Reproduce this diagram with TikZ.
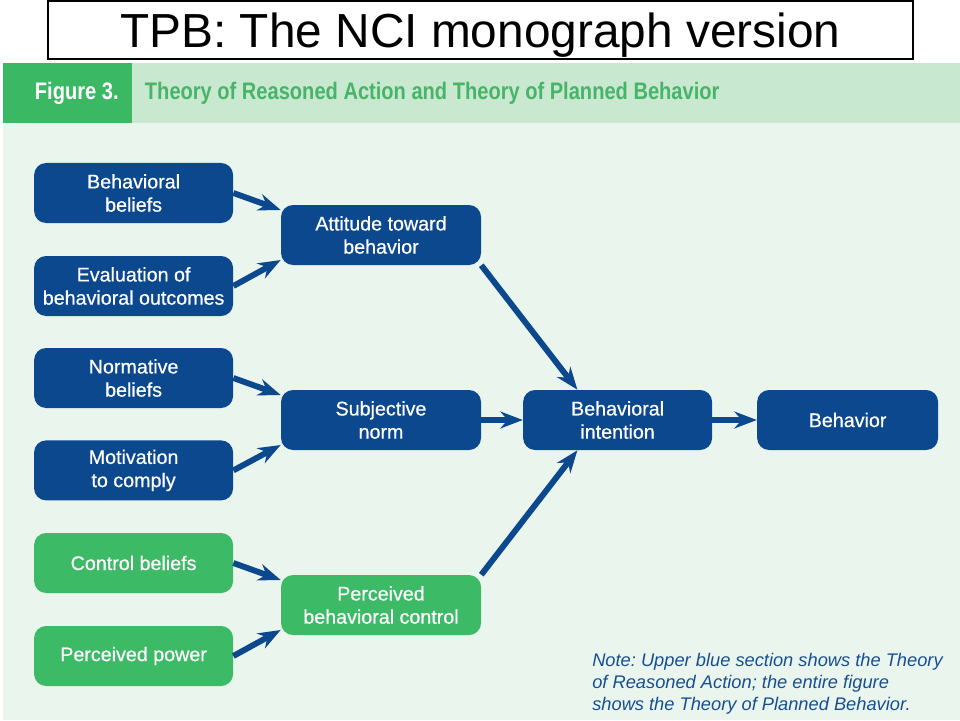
\documentclass[tikz,border=0pt]{standalone}
\usepackage{fontspec}
\setmainfont{Liberation Sans}
\newfontfamily\condfont[FakeStretch=0.84]{Liberation Sans}
\newfontfamily\boxfont[FakeBold=0.6]{Liberation Sans}
\usetikzlibrary{arrows.meta}
\definecolor{tpbblue}{RGB}{12,72,142}
\definecolor{tpbgreen}{RGB}{60,186,102}
\definecolor{panelbg}{RGB}{234,246,237}
\definecolor{bandbg}{RGB}{200,232,207}
\definecolor{figgreen}{RGB}{58,184,100}
\definecolor{headgreen}{RGB}{72,180,106}
\definecolor{notblue}{RGB}{22,78,150}
\frenchspacing

\begin{document}
\begin{tikzpicture}
  \tikzstyle{theory} = [rectangle, fill=tpbblue, text=white, align=center, rounded corners=0.3cm, minimum width=4.975cm, minimum height=1.5cm, font=\boxfont\fontsize{14}{16.5}\selectfont]
  \tikzstyle{planned} = [theory, fill=tpbgreen]
  \tikzstyle{arrow} = [line width=4.2pt, tpbblue, -{Stealth[length=16pt,width=12pt]}]

  \useasboundingbox (0,0) rectangle (24,18);
  \fill[white] (0,0) rectangle (24,18);

  % Title and panel
  \draw[black, line width=0.75pt] (1.2,16.525) rectangle (22.825,17.975);
  \node (title) [anchor=base, font=\fontsize{34}{40}\selectfont] at (12.01,16.8) {TPB: The NCI monograph version};
  \fill[panelbg] (0.075,0) rectangle (24,16.425);
  \fill[bandbg] (0.075,14.925) rectangle (24,16.425);
  \fill[figgreen] (0.075,14.925) rectangle (3.3,16.425);
  \node (figlabel) [anchor=west, text=white, font=\condfont\bfseries\fontsize{17}{20}\selectfont] at (0.75,15.675) {Figure 3.};
  \node (header) [anchor=west, text=headgreen, font=\condfont\bfseries\fontsize{17}{20}\selectfont] at (3.5,15.675) {Theory of Reasoned Action and Theory of Planned Behavior};

  % Beliefs
  \node (bb) [theory] at (3.34,13.175) {Behavioral\\beliefs};
  \node (outcome) [theory] at (3.34,10.85) {Evaluation of\\behavioral outcomes};
  \node (normb) [theory] at (3.34,8.55) {Normative\\beliefs};
  \node (motive) [theory] at (3.34,6.24) {Motivation\\to comply};
  \node (ctrlb) [planned] at (3.34,3.925) {Control beliefs};
  \node (power) [planned] at (3.34,1.6) {Perceived power};

  % Determinants
  \node (attitude) [theory, minimum width=5cm] at (9.525,12.125) {Attitude toward\\behavior};
  \node (norm) [theory, minimum width=5cm] at (9.525,7.5) {Subjective\\norm};
  \node (control) [planned, minimum width=5cm] at (9.525,2.875) {Perceived\\behavioral control};

  % Intention and behavior
  \node (intent) [theory, minimum width=4.725cm] at (15.44,7.5) {Behavioral\\intention};
  \node (behav) [theory, minimum width=4.525cm] at (21.19,7.5) {Behavior};

  % Note
  \node (note) [anchor=north west, inner sep=0pt, align=left, text=notblue, font=\itshape\fontsize{13}{15.6}\selectfont] at (14.8,1.68) {Note: Upper blue section shows the Theory\\of Reasoned Action; the entire figure\\shows the Theory of Planned Behavior.};

  % Arrows
  \draw[arrow] (bb.east) -- (attitude.166);
  \draw[arrow] (outcome.east) -- (attitude.194);
  \draw[arrow] (normb.east) -- (norm.166);
  \draw[arrow] (motive.east) -- (norm.194);
  \draw[arrow] (ctrlb.east) -- (control.166);
  \draw[arrow] (power.east) -- (control.194);
  \draw[arrow] (attitude.south east) -- (intent.143);
  \draw[arrow] (norm.east) -- (intent.west);
  \draw[arrow] (control.north east) -- (intent.217);
  \draw[arrow] (intent.east) -- (behav.west);

\end{tikzpicture}
\end{document}
